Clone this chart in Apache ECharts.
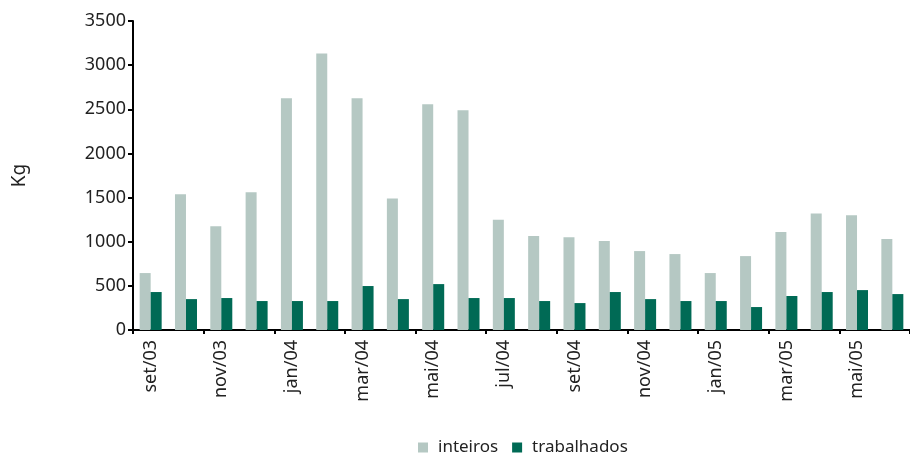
<!DOCTYPE html>
<html>
<head>
<meta charset="utf-8">
<script src="https://cdn.jsdelivr.net/npm/echarts@6/dist/echarts.min.js"></script>
<style>html,body{margin:0;padding:0;background:#fff}#c{width:910px;height:463px}</style>
</head>
<body>
<div id="c"></div>
<script>
var categories = ['set/03','out/03','nov/03','dez/03','jan/04','fev/04','mar/04','abr/04','mai/04','jun/04','jul/04','ago/04','set/04','out/04','nov/04','dez/04','jan/05','fev/05','mar/05','abr/05','mai/05','jun/05'];
var inteiros = [645, 1538, 1176, 1561, 2624, 3133, 2624, 1490, 2557, 2489, 1250, 1065, 1050, 1007, 894, 860, 645, 837, 1110, 1320, 1300, 1030];
var trabalhados = [430, 350, 362, 328, 328, 328, 498, 350, 520, 362, 362, 328, 305, 430, 350, 328, 328, 260, 385, 430, 452, 407];
var yTicks = [0, 500, 1000, 1500, 2000, 2500, 3000, 3500];

var font = '"Noto Sans", sans-serif';
var chart = echarts.init(document.getElementById('c'), null, {renderer: 'canvas'});
chart.setOption({
  animation: false,
  grid: {left: 133, right: 0, top: 21, bottom: 133, containLabel: false},
  legend: {
    bottom: 2, left: 413, itemWidth: 10, itemHeight: 10, itemGap: 14, icon: 'rect',
    textStyle: {fontFamily: font, fontSize: 17, color: '#222', padding: [0, 0, 0, 5]},
    data: ['inteiros', 'trabalhados']
  },
  xAxis: {
    type: 'category', data: categories,
    axisLine: {lineStyle: {color: '#000', width: 2}},
    axisTick: {show: true, interval: 1, length: 4, lineStyle: {color: '#000', width: 2}},
    axisLabel: {interval: 1, rotate: 90, margin: 10, fontFamily: font, fontSize: 18, color: '#222'}
  },
  yAxis: {
    type: 'value', min: yTicks[0], max: yTicks[yTicks.length - 1], interval: 500,
    name: 'Kg', nameLocation: 'middle', nameRotate: 90, nameGap: 104,
    nameTextStyle: {fontFamily: font, fontSize: 19, color: '#222'},
    splitLine: {show: false},
    axisLine: {show: true, lineStyle: {color: '#000', width: 2}},
    axisTick: {show: true, length: 5, lineStyle: {color: '#000', width: 2}},
    axisLabel: {margin: 7, fontFamily: font, fontSize: 18, color: '#222', formatter: function (v) { return String(v); }}
  },
  series: [
    {name: 'inteiros', type: 'bar', data: inteiros, barWidth: 11, barGap: '0%', itemStyle: {color: '#b5c8c3'}},
    {name: 'trabalhados', type: 'bar', data: trabalhados, barWidth: 11, barGap: '0%', itemStyle: {color: '#006a55'}}
  ]
});
</script>
</body>
</html>
